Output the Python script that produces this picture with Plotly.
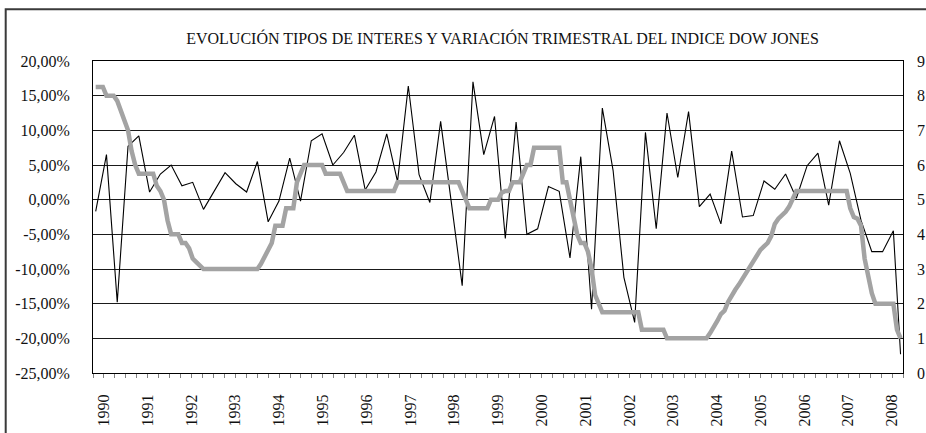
import plotly.graph_objects as go

# ---------------- data ----------------
title_text = "EVOLUCIÓN TIPOS DE INTERES Y VARIACIÓN TRIMESTRAL DEL INDICE DOW JONES"

year_labels = ["1990", "1991", "1992", "1993", "1994", "1995", "1996", "1997", "1998", "1999",
               "2000", "2001", "2002", "2003", "2004", "2005", "2006", "2007", "2008"]

left_tick_values = [20, 15, 10, 5, 0, -5, -10, -15, -20, -25]
left_tick_labels = ["20,00%", "15,00%", "10,00%", "5,00%", "0,00%", "-5,00%",
                    "-10,00%", "-15,00%", "-20,00%", "-25,00%"]
right_tick_values = [0, 1, 2, 3, 4, 5, 6, 7, 8, 9]

# quarterly variation of the Dow Jones index (%), one value every third month,
# the last value two months after the previous one
dow_variation = [
    -1.7, 6.5, -14.8, 7.7, 9.2, 1.1, 3.7, 5.0, 2.0, 2.5, -1.4, 1.3,
    3.9, 2.3, 1.1, 5.5, -3.2, -0.2, 6.0, -0.2, 8.5, 9.5, 5.0, 6.8,
    9.3, 1.4, 4.0, 9.5, 2.6, 16.4, 3.6, -0.4, 11.3, -0.5, -12.4, 17.0,
    6.5, 12.0, -5.6, 11.2, -5.0, -4.2, 1.9, 1.2, -8.4, 6.2, -15.8, 13.2,
    4.2, -11.2, -17.7, 9.7, -4.2, 12.5, 3.2, 12.7, -1.0, 0.8, -3.5, 7.0,
    -2.5, -2.3, 2.7, 1.5, 3.7, 0.2, 4.9, 6.7, -0.8, 8.5, 3.8, -3.0,
    -7.5, -7.5, -4.5, -22.3,
]
dow_months = list(range(0, 223, 3)) + [224]

# monthly interest rate (%)
rate_values = [
    8.25, 8.25, 8.25, 8.0, 8.0, 8.0, 7.85, 7.55, 7.3, 7.0, 6.4, 6.0,
    5.75, 5.75, 5.75, 5.75, 5.75, 5.4, 5.25, 5.0, 4.4, 4.0, 4.0, 4.0,
    3.75, 3.75, 3.6, 3.3, 3.2, 3.1, 3.0, 3.0, 3.0, 3.0, 3.0, 3.0,
    3.0, 3.0, 3.0, 3.0, 3.0, 3.0, 3.0, 3.0, 3.0, 3.0, 3.15, 3.35,
    3.55, 3.75, 4.25, 4.25, 4.25, 4.75, 4.75, 4.75, 5.5, 5.75, 6.0, 6.0,
    6.0, 6.0, 6.0, 6.0, 5.75, 5.75, 5.75, 5.75, 5.75, 5.5, 5.25, 5.25,
    5.25, 5.25, 5.25, 5.25, 5.25, 5.25, 5.25, 5.25, 5.25, 5.25, 5.25, 5.25,
    5.5, 5.5, 5.5, 5.5, 5.5, 5.5, 5.5, 5.5, 5.5, 5.5, 5.5, 5.5,
    5.5, 5.5, 5.5, 5.5, 5.5, 5.5, 5.25, 5.0, 4.75, 4.75, 4.75, 4.75,
    4.75, 4.75, 5.0, 5.0, 5.0, 5.2, 5.25, 5.25, 5.5, 5.5, 5.5, 5.75,
    6.0, 6.0, 6.5, 6.5, 6.5, 6.5, 6.5, 6.5, 6.5, 6.5, 5.5, 5.5,
    5.0, 4.5, 4.0, 3.75, 3.75, 3.5, 3.0, 2.25, 2.0, 1.75, 1.75, 1.75,
    1.75, 1.75, 1.75, 1.75, 1.75, 1.75, 1.75, 1.75, 1.25, 1.25, 1.25, 1.25,
    1.25, 1.25, 1.25, 1.0, 1.0, 1.0, 1.0, 1.0, 1.0, 1.0, 1.0, 1.0,
    1.0, 1.0, 1.0, 1.15, 1.3, 1.5, 1.7, 1.8, 2.05, 2.25, 2.4, 2.55,
    2.72, 2.9, 3.07, 3.2, 3.35, 3.55, 3.65, 3.75, 3.95, 4.3, 4.45, 4.55,
    4.65, 4.8, 5.05, 5.25, 5.25, 5.25, 5.25, 5.25, 5.25, 5.25, 5.25, 5.25,
    5.25, 5.25, 5.25, 5.25, 5.25, 5.25, 4.75, 4.5, 4.45, 4.25, 3.3, 2.8,
    2.3, 2.0, 2.0, 2.0, 2.0, 2.0, 2.0, 1.25, 1.0,
]
rate_months = list(range(len(rate_values)))

# ---------------- layout helpers ----------------
W, H = 926, 433
PL, PR, PT, PB = 93.3, 903.3, 61.0, 373.0   # plot area in px
FONT = "Liberation Serif, Times New Roman, Times, serif"

# x axis in months; quarterly tick marks
x_lo, x_hi = -0.75, 224.68
n_ticks = 75
tick_step = (x_hi - x_lo) / (n_ticks - 1)
tickvals = [x_lo + tick_step * k for k in range(n_ticks)]
ticktext = []
for k in range(n_ticks):
    if k % 4 == 1 and (k - 1) // 4 < len(year_labels):
        ticktext.append(year_labels[(k - 1) // 4])
    else:
        ticktext.append("")

def px_to_paper_x(px):
    return (px - PL) / (PR - PL)

def px_to_paper_y(py):
    return (PB - py) / (PB - PT)

fig = go.Figure()

fig.add_trace(go.Scatter(
    x=rate_months, y=rate_values, yaxis="y2", mode="lines",
    line=dict(color="#a3a3a3", width=4.5), name="Tipos", hoverinfo="skip",
))
fig.add_trace(go.Scatter(
    x=dow_months, y=dow_variation, yaxis="y", mode="lines",
    line=dict(color="#000000", width=1.1), name="Dow Jones", hoverinfo="skip",
))

fig.update_layout(
    width=W, height=H,
    margin=dict(l=PL, r=W - PR, t=PT, b=H - PB, pad=0, autoexpand=False),
    paper_bgcolor="white", plot_bgcolor="white",
    showlegend=False,
    font=dict(family=FONT, size=16, color="#111"),
    title=dict(
        text=title_text, font=dict(family=FONT, size=16, color="#111"),
        x=502.5 / W, xanchor="center", xref="container",
        y=1 - 38.5 / H, yanchor="middle", yref="container",
    ),
    xaxis=dict(
        range=[x_lo, x_hi], tickmode="array", tickvals=tickvals, ticktext=ticktext,
        tickangle=-90, ticks="outside", ticklen=4, tickcolor="#808080", tickwidth=1,
        showline=True, linecolor="#000", linewidth=1, mirror=True,
        showgrid=False, zeroline=False, ticklabelstandoff=10, automargin=False,
        tickfont=dict(family=FONT, size=16, color="#111"),
    ),
    yaxis=dict(
        range=[-25, 20], tickmode="array", tickvals=left_tick_values, ticktext=left_tick_labels,
        ticks="", showline=True, linecolor="#000", linewidth=1, mirror=True,
        showgrid=True, gridcolor="#1a1a1a", gridwidth=1, zeroline=False,
        ticklabelstandoff=19, automargin=False,
        tickfont=dict(family=FONT, size=16, color="#111"),
    ),
    yaxis2=dict(
        range=[0, 9], tickmode="array", tickvals=right_tick_values,
        overlaying="y", side="right", ticks="", showline=False,
        showgrid=False, zeroline=False, ticklabelstandoff=13, automargin=False,
        tickfont=dict(family=FONT, size=16, color="#111"),
    ),
    shapes=[dict(
        type="rect", xref="paper", yref="paper",
        x0=px_to_paper_x(6), x1=px_to_paper_x(940),
        y0=px_to_paper_y(450), y1=px_to_paper_y(9.3),
        line=dict(color="#3a3a3a", width=2), fillcolor="rgba(0,0,0,0)", layer="above",
    )],
)

# remove the page's default body margin so the figure sits at the window origin
fig.write_html(
    "out.html",
    config={"displayModeBar": False},
    post_script="document.body.style.margin='0';document.body.style.overflow='hidden';",
)
